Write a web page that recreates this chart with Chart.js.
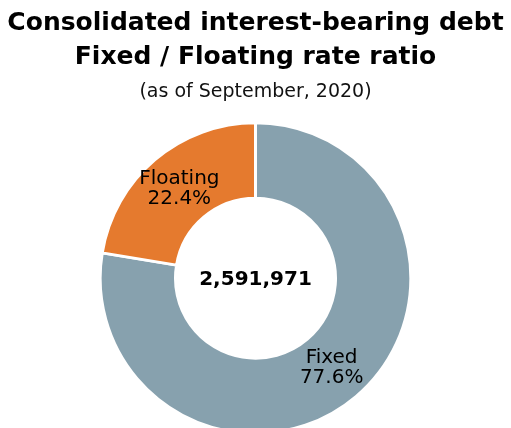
<!DOCTYPE html>
<html lang="en">
  <head>
    <meta charset="UTF-8" />
    <title>Fixed / Floating rate ratio</title>
    <style>
      * {
        margin: 0;
        padding: 0;
        box-sizing: border-box;
      }
      body {
        width: 511px;
        height: 428px;
        overflow: hidden;
        background: white;
      }
      .chartBox {
        width: 511px;
        height: 435px;
      }
    </style>
  </head>
  <body>
    <div class="chartBox">
      <canvas id="myChart"></canvas>
    </div>

    <script src="https://cdn.jsdelivr.net/npm/chart.js"></script>
    <script>
      const labels = ["Fixed", "Floating"];
      const shares = [77.6, 22.4];
      const total = "2,591,971";
      const colors = ["#87a1ae", "#e57a2e"];

      const fontFamily = "'DejaVu Sans', Verdana, sans-serif";

      const sliceLabels = {
        id: "sliceLabels",
        afterDatasetsDraw(chart) {
          const { ctx } = chart;
          const meta = chart.getDatasetMeta(0);
          ctx.save();
          ctx.fillStyle = "#000";
          ctx.font = "20px " + fontFamily;
          ctx.textAlign = "center";
          ctx.textBaseline = "middle";
          meta.data.forEach((arc, i) => {
            const p = arc.tooltipPosition();
            ctx.fillText(labels[i], p.x, p.y - 10);
            ctx.fillText(shares[i].toFixed(1) + "%", p.x, p.y + 10);
          });
          const arc = meta.data[0];
          ctx.font = "bold 20px " + fontFamily;
          ctx.fillText(total, arc.x, arc.y + 2);
          ctx.restore();
        },
      };

      new Chart(document.getElementById("myChart"), {
        type: "doughnut",
        data: {
          labels: labels,
          datasets: [
            {
              data: shares,
              backgroundColor: colors,
              borderColor: "#ffffff",
              borderWidth: 3,
              hoverOffset: 0,
            },
          ],
        },
        options: {
          responsive: true,
          maintainAspectRatio: false,
          animation: false,
          cutout: "51.5%",
          layout: { padding: 0 },
          plugins: {
            legend: { display: false },
            tooltip: { enabled: false },
            title: {
              display: true,
              text: ["Consolidated interest-bearing debt", "Fixed / Floating rate ratio"],
              color: "#000",
              font: { family: fontFamily, size: 25, weight: "bold", lineHeight: 1.35 },
              padding: { top: 7, bottom: 4 },
            },
            subtitle: {
              display: true,
              text: "(as of September, 2020)",
              color: "#111",
              font: { family: fontFamily, size: 19, lineHeight: 1.2 },
              padding: { top: 2, bottom: 18 },
            },
          },
        },
        plugins: [sliceLabels],
      });
    </script>
  </body>
</html>
